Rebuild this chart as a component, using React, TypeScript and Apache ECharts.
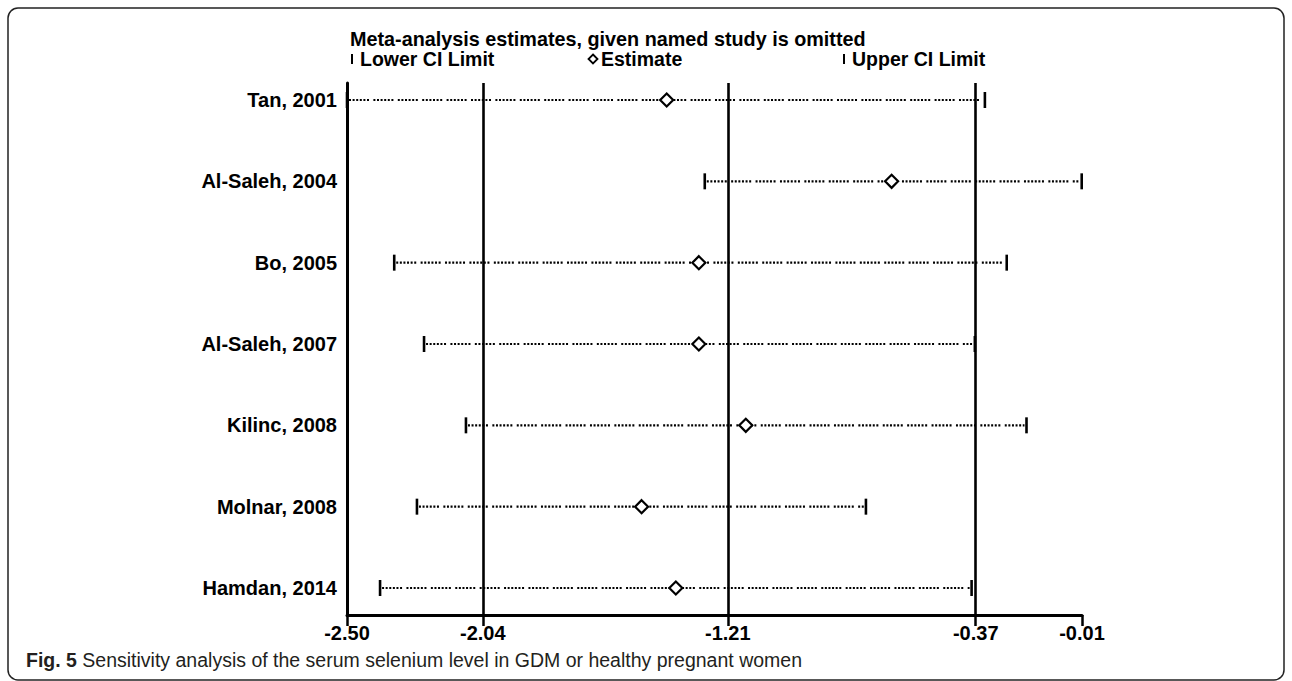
import React, { useEffect, useRef } from "react";
import * as echarts from "echarts";

const studies = [
  "Tan, 2001",
  "Al-Saleh, 2004",
  "Bo, 2005",
  "Al-Saleh, 2007",
  "Kilinc, 2008",
  "Molnar, 2008",
  "Hamdan, 2014",
];
const lowerCI = [-2.5, -1.288, -2.34, -2.239, -2.097, -2.263, -2.388];
const estimates = [-1.417, -0.655, -1.308, -1.308, -1.149, -1.502, -1.386];
const upperCI = [-0.339, -0.011, -0.265, -0.373, -0.198, -0.742, -0.384];
const tickValues = [-2.5, -2.04, -1.21, -0.37, -0.01];
const refLines = [-2.04, -1.21, -0.37];
const rowIndex = [0, 1, 2, 3, 4, 5, 6];

const titleText = "Meta-analysis estimates, given named study is omitted";
const legendLabels = ["Lower CI Limit", "Estimate", "Upper CI Limit"];
const captionBold = "Fig. 5";
const captionText = "Sensitivity analysis of the serum selenium level in GDM or healthy pregnant women";

const FONT = "'Liberation Sans', Arial, Helvetica, sans-serif";

export default function App() {
  const ref = useRef<HTMLDivElement>(null);

  useEffect(() => {
    document.body.style.margin = "0";
    document.body.style.overflow = "hidden";
    if (!ref.current) return;
    const chart = echarts.init(ref.current, undefined, { renderer: "svg" });

    const dotDash = [2, 1.6, 2, 1.6, 2, 1.6, 2, 1.6, 2, 1.6, 2, 4.4];

    const option: any = {
      animation: false,
      backgroundColor: "#fff",
      grid: { left: 347, right: 210, top: 83, bottom: 66 },
      xAxis: {
        type: "value",
        min: -2.5,
        max: -0.01,
        position: "bottom",
        axisLine: { show: true, onZero: false, lineStyle: { color: "#000", width: 3 } },
        axisTick: {
          show: true,
          customValues: tickValues,
          length: 11,
          lineStyle: { color: "#000", width: 2.5 },
        },
        axisLabel: {
          customValues: tickValues,
          formatter: (v: number) => v.toFixed(2),
          color: "#000",
          fontFamily: FONT,
          fontWeight: "bold",
          fontSize: 20,
          margin: 8,
        },
        splitLine: { show: false },
      },
      yAxis: {
        type: "value",
        inverse: true,
        min: -0.209,
        max: 6.332,
        axisLine: { show: true, onZero: false, lineStyle: { color: "#000", width: 3 } },
        axisTick: { show: false },
        splitLine: { show: false },
        axisLabel: {
          customValues: rowIndex,
          formatter: (v: number) => studies[Math.round(v)] ?? "",
          color: "#000",
          fontFamily: FONT,
          fontWeight: "bold",
          fontSize: 20,
          margin: 10,
        },
      },
      series: [
        {
          type: "custom",
          clip: false,
          data: rowIndex.map((i) => [i, lowerCI[i], estimates[i], upperCI[i]]),
          encode: { x: [1, 2, 3], y: 0 },
          renderItem: (params: any, api: any) => {
            const lo = api.coord([api.value(1), api.value(0)]);
            const es = api.coord([api.value(2), api.value(0)]);
            const hi = api.coord([api.value(3), api.value(0)]);
            const y = lo[1];
            const cap = 8;
            const d = 6.5;
            return {
              type: "group",
              children: [
                {
                  type: "line",
                  shape: { x1: lo[0] + 2, y1: y, x2: hi[0] - 2, y2: y },
                  style: { stroke: "#000", lineWidth: 2.2, lineDash: dotDash },
                },
                {
                  type: "line",
                  shape: { x1: lo[0], y1: y - cap, x2: lo[0], y2: y + cap },
                  style: { stroke: "#000", lineWidth: 2.6 },
                },
                {
                  type: "line",
                  shape: { x1: hi[0], y1: y - cap, x2: hi[0], y2: y + cap },
                  style: { stroke: "#000", lineWidth: 2.6 },
                },
                {
                  type: "polygon",
                  z2: 10,
                  shape: {
                    points: [
                      [es[0], y - d],
                      [es[0] + d, y],
                      [es[0], y + d],
                      [es[0] - d, y],
                    ],
                  },
                  style: { fill: "#fff", stroke: "#000", lineWidth: 2.2 },
                },
              ],
            };
          },
          markLine: {
            silent: true,
            symbol: ["none", "none"],
            label: { show: false },
            lineStyle: { color: "#000", width: 2.6, type: "solid" },
            data: refLines.map((v) => ({ xAxis: v })),
          },
        },
      ],
      graphic: [
        {
          type: "rect",
          shape: { x: 8, y: 8, width: 1276, height: 672, r: 10 },
          style: { fill: "none", stroke: "#222", lineWidth: 1.5 },
          silent: true,
        },
        {
          type: "text",
          x: 350,
          y: 39,
          style: {
            text: titleText,
            fill: "#000",
            font: `bold 19.8px ${FONT}`,
            align: "left",
            verticalAlign: "middle",
          },
        },
        { type: "rect", shape: { x: 351, y: 54, width: 2, height: 10 }, style: { fill: "#000" } },
        {
          type: "text",
          x: 360,
          y: 59,
          style: {
            text: legendLabels[0],
            fill: "#000",
            font: `bold 19.5px ${FONT}`,
            align: "left",
            verticalAlign: "middle",
          },
        },
        {
          type: "polygon",
          shape: { points: [[593, 54.5], [597.5, 59], [593, 63.5], [588.5, 59]] },
          style: { fill: "#fff", stroke: "#000", lineWidth: 1.8 },
        },
        {
          type: "text",
          x: 601,
          y: 59,
          style: {
            text: legendLabels[1],
            fill: "#000",
            font: `bold 19.5px ${FONT}`,
            align: "left",
            verticalAlign: "middle",
          },
        },
        { type: "rect", shape: { x: 843, y: 54, width: 2, height: 10 }, style: { fill: "#000" } },
        {
          type: "text",
          x: 852,
          y: 59,
          style: {
            text: legendLabels[2],
            fill: "#000",
            font: `bold 19.5px ${FONT}`,
            align: "left",
            verticalAlign: "middle",
          },
        },
        {
          type: "text",
          x: 26,
          y: 660,
          style: {
            text: `{b|${captionBold}} ${captionText}`,
            fill: "#231f20",
            font: `19.5px ${FONT}`,
            align: "left",
            verticalAlign: "middle",
            rich: {
              b: { fontWeight: "bold", fontSize: 19.5, fontFamily: FONT, fill: "#231f20" },
            },
          },
        },
      ],
    };

    chart.setOption(option);
    return () => chart.dispose();
  }, []);

  return <div ref={ref} style={{ width: 1292, height: 681 }} />;
}
